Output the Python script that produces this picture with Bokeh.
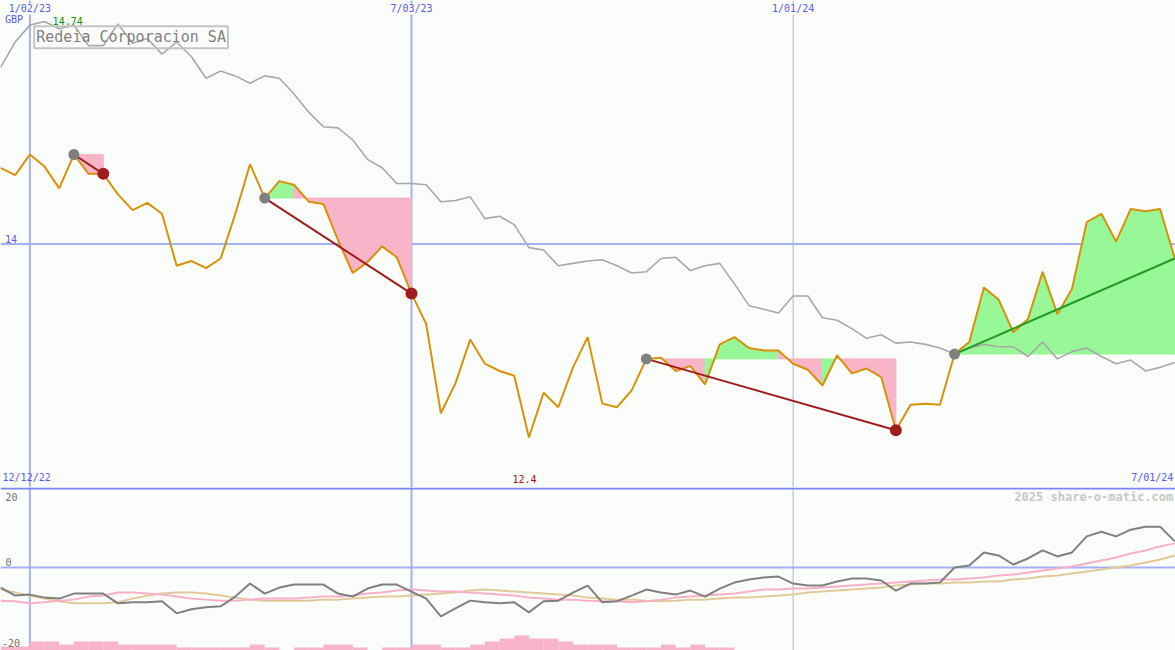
from bokeh.plotting import figure
from bokeh.models import Range1d, Span, Label
from bokeh.layouts import column
from bokeh.embed import file_html
from bokeh.resources import INLINE

# ---------------- data (weekly, week index 0 = 19 Dec 2022) ----------------
close = [
    14.63, 14.57, 14.74, 14.64, 14.46, 14.74, 14.58, 14.58, 14.41, 14.28,
    14.34, 14.25, 13.82, 13.86, 13.80, 13.88, 14.25, 14.66, 14.38, 14.52,
    14.49, 14.35, 14.33, 14.03, 13.76, 13.85, 13.98, 13.89, 13.59, 13.34,
    12.60, 12.85, 13.21, 13.01, 12.95, 12.91, 12.40, 12.77, 12.65, 12.98,
    13.23, 12.68, 12.65, 12.79, 13.05, 13.06, 12.95, 12.99, 12.84, 13.17,
    13.23, 13.14, 13.12, 13.12, 13.01, 12.96, 12.83, 13.08, 12.93, 12.97,
    12.90, 12.46, 12.67, 12.68, 12.67, 13.09, 13.19, 13.64, 13.54, 13.27,
    13.38, 13.77, 13.42, 13.63, 14.18, 14.25, 14.02, 14.29, 14.27, 14.29,
    13.88,
]
relative = [
    15.46, 15.67, 15.81, 15.84, 15.78, 15.81, 15.64, 15.64, 15.82, 15.66,
    15.70, 15.57, 15.67, 15.55, 15.37, 15.43, 15.39, 15.33, 15.39, 15.37,
    15.24, 15.09, 14.97, 14.96, 14.86, 14.70, 14.63, 14.50, 14.50, 14.49,
    14.35, 14.36, 14.39, 14.21, 14.23, 14.16, 13.97, 13.95, 13.82, 13.84,
    13.86, 13.87, 13.82, 13.76, 13.77, 13.88, 13.89, 13.78, 13.82, 13.84,
    13.67, 13.49, 13.46, 13.43, 13.57, 13.57, 13.39, 13.37, 13.30, 13.22,
    13.25, 13.18, 13.19, 13.17, 13.14, 13.09, 13.14, 13.17, 13.15, 13.15,
    13.07, 13.19, 13.05, 13.11, 13.14, 13.07, 13.01, 13.04, 12.95, 12.98,
    13.02,
]
momentum = [
    -6.0, -8.4, -8.1, -9.0, -9.3, -7.8, -7.8, -7.8, -10.7, -10.4,
    -10.4, -10.1, -13.7, -12.5, -11.9, -11.6, -8.7, -4.8, -7.8, -6.0,
    -5.1, -5.1, -5.1, -7.8, -8.7, -6.3, -5.1, -5.1, -7.2, -9.3,
    -14.6, -12.2, -9.9, -10.4, -10.7, -10.4, -13.4, -10.1, -9.9, -7.5,
    -5.4, -10.4, -10.1, -8.4, -6.6, -7.5, -8.1, -6.9, -8.7, -6.3,
    -4.5, -3.6, -3.0, -2.7, -4.8, -5.4, -5.4, -4.2, -3.3, -3.3,
    -3.9, -6.9, -4.8, -4.8, -4.5, 0.0, 0.6, 4.5, 3.6, 0.9,
    2.7, 5.1, 3.3, 4.5, 9.3, 10.7, 9.3, 11.3, 12.2, 12.2,
    7.8,
]
ma_pink = [
    -9.9, -10.1, -10.7, -10.4, -9.9, -9.6, -8.7, -8.4, -7.5, -7.5,
    -7.8, -8.1, -8.7, -9.3, -9.6, -9.9, -9.9, -9.6, -9.3, -9.3,
    -9.3, -9.0, -8.7, -8.7, -8.4, -7.8, -7.5, -6.9, -6.6, -6.9,
    -7.2, -7.2, -7.5, -7.8, -8.1, -8.4, -9.0, -9.3, -9.6, -9.6,
    -9.9, -10.1, -10.1, -10.4, -10.1, -9.6, -9.0, -8.7, -8.4, -8.1,
    -7.8, -7.2, -6.6, -6.6, -6.3, -6.3, -6.0, -5.7, -5.4, -5.1,
    -4.8, -4.5, -4.2, -3.9, -3.6, -3.6, -3.3, -3.0, -2.4, -2.1,
    -1.5, -0.9, -0.3, 0.3, 1.2, 2.1, 3.0, 4.2, 5.1, 6.3,
    7.2,
]
ma_tan = [
    -6.6, -7.5, -8.4, -9.3, -10.1, -10.7, -10.7, -10.7, -10.4, -9.3,
    -8.4, -7.8, -7.5, -7.5, -7.8, -8.4, -9.0, -9.6, -9.9, -9.9,
    -9.9, -9.9, -9.6, -9.6, -9.3, -9.0, -8.7, -8.7, -8.4, -8.1,
    -7.8, -7.5, -6.9, -6.6, -6.9, -7.2, -7.5, -7.8, -8.1, -8.4,
    -9.0, -9.3, -9.6, -9.6, -9.9, -10.1, -9.9, -9.6, -9.6, -9.3,
    -9.0, -9.0, -8.7, -8.4, -8.1, -7.5, -7.2, -6.9, -6.6, -6.3,
    -6.0, -5.4, -5.1, -4.8, -4.8, -4.5, -4.5, -4.2, -4.2, -3.6,
    -3.3, -2.7, -2.4, -1.8, -1.2, -0.6, 0.0, 0.6, 1.5, 2.4,
    3.6,
]
volume = [
    1.3, 1.3, 3, 3, 2, 3, 3, 3, 2, 2,
    2, 2, 1, 1, 1, 1, 1, 2, 1, 0,
    1, 1, 2, 2, 1, 0, 1, 1, 2, 2,
    1, 1, 2, 3, 4, 5, 4, 4, 3, 2,
    2, 2, 1, 1, 1, 2, 1, 2, 1, 1,
    0, 0, 0, 0, 0, 0, 0, 0, 0, 0,
    0, 0, 0, 0, 0, 0, 0, 0, 0, 0,
    0, 0, 0, 0, 0, 0, 0, 0, 0, 0,
    0,
]
trade_entry = [5, 18, 44, 65]
trade_exit = [7, 28, 61, 80]
trade_open = [False, False, False, True]

grid_weeks = [2, 28, 54]
grid_labels = ["1/02/23", "7/03/23", "1/01/24"]
grid_widths = [2, 2, 1]
start_label = "12/12/22"
end_label = "7/01/24"
price_hi_label = "14.74"
price_lo_label = "12.4"
price_lo_week = 36
title = "Redeia Corporacion SA"

# ---------------- style ----------------
BG = "#fbfdfb"
GRID = "#a4b0f4"
SEP = "#7888f0"
ORANGE = "#d8920a"
GRAY = "#a8a8a8"
MOM = "#808080"
PINK_MA = "#f8b0c8"
TAN_MA = "#e2ca98"
VOL = "#f8b4c8"
FILL_PINK = "#f8b4c8"
FILL_GREEN = "#98f898"
RED = "#a01c1c"
GREEN_LINE = "#229922"
BLUE_TXT = "#5a5af0"
FONT = "DejaVu Sans Mono"

W = 1175
H1 = 487
H2 = 163
N = len(close)
idx = list(range(N))
x_range = Range1d(0, 80.05)

# ---------------- main price panel ----------------
p = figure(width=W, height=H1, x_range=x_range, y_range=Range1d(11.9865, 16.0135),
           output_backend="svg", toolbar_location=None, min_border=0,
           background_fill_color=BG, border_fill_color=BG, outline_line_color=None)
p.axis.visible = False
p.grid.visible = False

for w, lw in zip(grid_weeks, grid_widths):
    p.add_layout(Span(location=w, dimension="height", line_color=GRID, line_width=lw, level="underlay"))
p.add_layout(Span(location=14, dimension="width", line_color=GRID, line_width=2, level="underlay"))

# trade shading
xs, ys, cols = [], [], []
for e, x_ in zip(trade_entry, trade_exit):
    lvl = close[e]
    for i in range(e, x_):
        xs.append([i, i, i + 1, i + 1])
        ys.append([lvl, close[i], close[i + 1], lvl])
        cols.append(FILL_GREEN if close[i + 1] >= lvl else FILL_PINK)
p.patches(xs, ys, fill_color=cols, line_color=cols, line_width=1)

p.line(idx, relative, line_color=GRAY, line_width=1.6)
p.line(idx, close, line_color=ORANGE, line_width=2)

seg_col = [GREEN_LINE if o else RED for o in trade_open]
p.segment(x0=trade_entry, y0=[close[e] for e in trade_entry],
          x1=trade_exit, y1=[close[x_] for x_ in trade_exit],
          line_color=seg_col, line_width=2)
p.scatter(trade_entry, [close[e] for e in trade_entry], size=11, fill_color="#808080", line_color=None)
closed_exit = [x_ for x_, o in zip(trade_exit, trade_open) if not o]
p.scatter(closed_exit, [close[x_] for x_ in closed_exit], size=12, fill_color=RED, line_color=None)

for w, t in zip(grid_weeks, grid_labels):
    p.add_layout(Label(x=w, y=15.989, text=t, text_align="center", text_baseline="top",
                       text_font=FONT, text_font_size="10px", text_color=BLUE_TXT,
                       background_fill_color=BG))
p.add_layout(Label(x=0.3, y=15.807, text="GBP", text_align="left", text_baseline="bottom",
                   text_font=FONT, text_font_size="10px", text_color=BLUE_TXT))
p.add_layout(Label(x=3.55, y=15.807, text=price_hi_label, text_align="left", text_baseline="bottom",
                   text_font=FONT, text_font_size="10px", text_color="#109010"))
p.add_layout(Label(x=0.3, y=14.01, text="14", text_align="left", text_baseline="bottom",
                   text_font=FONT, text_font_size="10px", text_color=BLUE_TXT))
p.add_layout(Label(x=price_lo_week - 0.3, y=12.02, text=price_lo_label, text_align="center", text_baseline="bottom",
                   text_font=FONT, text_font_size="10px", text_color="#a01010"))
p.add_layout(Label(x=0.14, y=12.02, text=start_label, text_align="left", text_baseline="bottom",
                   text_font=FONT, text_font_size="10px", text_color=BLUE_TXT))
p.add_layout(Label(x=79.9, y=12.02, text=end_label, text_align="right", text_baseline="bottom",
                   text_font=FONT, text_font_size="10px", text_color=BLUE_TXT))
p.add_layout(Label(x=2.3, y=15.80, text=title, text_align="left", text_baseline="top",
                   text_font=FONT, text_font_size="15px", text_color="#808080",
                   border_line_color="#c4c4c4", border_line_width=2, padding=2))

# ---------------- lower indicator panel ----------------
q = figure(width=W, height=H2, x_range=x_range, y_range=Range1d(-24.8, 23.9),
           output_backend="svg", toolbar_location=None, min_border=0,
           background_fill_color=BG, border_fill_color=BG, outline_line_color=None)
q.axis.visible = False
q.grid.visible = False
q.extra_y_ranges = {"vol": Range1d(0, 54.3)}

for w, lw in zip(grid_weeks, grid_widths):
    q.add_layout(Span(location=w, dimension="height", line_color=GRID, line_width=lw, level="underlay"))
q.add_layout(Span(location=0, dimension="width", line_color=GRID, line_width=2, level="underlay"))
q.add_layout(Span(location=23.6, dimension="width", line_color=SEP, line_width=2))

q.quad(left=idx, right=[i + 1 for i in idx], bottom=0, top=volume, y_range_name="vol",
       fill_color=VOL, line_color=None)
q.line(idx, ma_tan, line_color=TAN_MA, line_width=2)
q.line(idx, ma_pink, line_color=PINK_MA, line_width=2)
q.line(idx, momentum, line_color=MOM, line_width=2)

q.add_layout(Label(x=0.34, y=20, text="20", text_align="left", text_baseline="bottom",
                   text_font=FONT, text_font_size="10px", text_color="#707070"))
q.add_layout(Label(x=0.34, y=0.3, text="0", text_align="left", text_baseline="bottom",
                   text_font=FONT, text_font_size="10px", text_color="#707070"))
q.add_layout(Label(x=0.1, y=-23.9, text="-20", text_align="left", text_baseline="bottom",
                   text_font=FONT, text_font_size="10px", text_color="#707070"))
q.add_layout(Label(x=79.9, y=21.2, text="2025 share-o-matic.com", text_align="right", text_baseline="middle",
                   text_font=FONT, text_font_size="12px", text_font_style="bold", text_color="#c8c8c8"))

layout = column(p, q, spacing=0)
open("out.html", "w").write(file_html(layout, INLINE))
